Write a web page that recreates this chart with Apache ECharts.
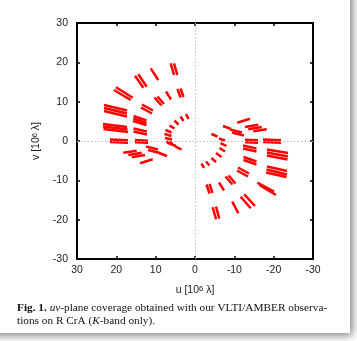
<!DOCTYPE html>
<html>
<head>
<meta charset="utf-8">
<script src="https://cdn.jsdelivr.net/npm/echarts@6/dist/echarts.min.js"></script>
<style>
html,body{margin:0;padding:0;background:#fff;}
#c{width:357px;height:341px;}
</style>
</head>
<body>
<div id="c"></div>
<script>
// uv tracks: each entry [u1, v1, u2, v2] in units of 10^6 lambda
const leftOuter = [
  [6.18,19.75,5.34,16.78],[5.34,19.75,4.50,16.78],
  [11.26,18.48,9.33,15.51],
  [15.25,16.60,13.14,13.55],[14.41,16.96,12.28,13.80],
  [20.08,13.65,15.84,11.01],[20.59,12.96,16.35,10.42],
  [23.13,9.15,17.29,7.75],[23.13,8.39,17.29,6.99],[23.13,7.63,17.29,6.23],
  [23.39,4.32,17.29,3.56],[23.39,3.69,17.16,2.92],[23.26,3.05,17.03,2.29],
  [21.61,0.38,17.03,0.18],[21.61,-0.25,17.03,-0.46],
  [18.23,-2.97,14.82,-2.47],[16.96,-3.56,13.55,-2.97],[16.09,-4.14,12.71,-3.56],
  [13.98,-5.67,10.75,-4.65]
];
const leftMiddle = [
  [4.45,13.22,3.69,11.06],[3.69,13.35,2.92,11.18],
  [7.37,12.58,6.10,10.55],
  [10.30,11.06,8.52,9.02],[9.53,11.31,7.88,9.41],
  [13.47,9.28,10.68,7.75],[13.73,8.52,10.93,6.99],
  [15.63,6.36,12.33,5.21],[15.68,5.72,12.33,4.58],[15.76,5.08,12.33,4.07],
  [15.64,3.18,12.21,2.42],[15.64,2.42,12.21,1.65],
  [15.26,0.25,11.95,0.08],[15.26,-0.33,11.95,-0.46],
  [12.46,-1.40,9.41,-2.16],[11.95,-2.29,8.90,-3.05],[9.15,-3.05,7.12,-3.81]
];
const leftInner = [
  [2.29,6.86,1.65,5.59],[3.69,6.23,2.92,5.08],[5.21,5.21,4.19,4.19],
  [6.48,3.94,5.21,3.18],[7.50,2.80,5.97,2.16],[7.75,1.78,5.97,1.27],
  [7.63,0.76,5.85,0.38],[7.25,-0.13,5.72,-0.51],
  [7.12,-0.38,4.83,-1.27],[4.96,-1.40,3.43,-2.16]
];
const rightOuter = [
  [-4.50,-16.85,-5.34,-19.90],[-5.34,-16.70,-6.18,-19.75],
  [-9.48,-15.43,-11.01,-18.38],
  [-11.62,-14.16,-14.16,-17.11],[-12.53,-13.55,-15.25,-16.52],
  [-15.84,-10.60,-20.08,-12.89],[-16.35,-11.18,-20.59,-13.73],
  [-18.30,-6.48,-23.39,-7.63],[-18.18,-7.24,-23.39,-8.52],[-18.05,-8.01,-23.26,-9.15],
  [-18.30,-2.16,-23.64,-3.05],[-18.30,-2.92,-23.64,-3.94],[-18.30,-3.69,-23.51,-4.70],
  [-17.29,0.38,-21.86,0.18],[-17.29,-0.25,-21.86,-0.46],
  [-14.82,2.47,-18.23,2.97],[-13.55,2.97,-16.96,3.56],[-12.71,3.56,-16.09,4.14],
  [-10.75,4.65,-13.98,5.67]
];
const rightMiddle = [
  [-2.92,-11.06,-3.69,-13.35],[-3.69,-10.93,-4.45,-13.22],
  [-6.10,-10.55,-7.37,-12.58],
  [-7.75,-9.02,-9.53,-11.06],[-8.52,-8.77,-10.30,-10.80],
  [-10.68,-7.50,-13.47,-9.02],[-10.93,-6.74,-13.73,-8.26],
  [-12.33,-4.07,-15.63,-5.21],[-12.33,-4.83,-15.63,-5.97],
  [-12.21,-1.14,-15.63,-1.91],[-12.21,-1.91,-15.63,-2.67],
  [-12.71,0.31,-16.01,0.20],[-12.71,-0.33,-16.01,-0.46],
  [-9.41,2.16,-12.46,1.40],[-8.90,2.92,-11.95,2.16],[-7.12,3.81,-9.15,3.05]
];
const rightInner = [
  [-4.19,1.78,-5.72,1.14],[-6.10,0.64,-7.63,0.13],[-6.48,-0.51,-8.01,-1.27],
  [-6.23,-1.78,-7.63,-2.67],[-5.34,-3.05,-6.74,-4.07],[-4.19,-4.32,-5.34,-5.34],
  [-2.80,-5.21,-3.69,-6.23],[-1.65,-5.72,-2.29,-6.86]
];

const segments = [].concat(leftOuter,leftMiddle,leftInner,rightOuter,rightMiddle,rightInner);

const chart = echarts.init(document.getElementById('c'), null, {renderer:'canvas'});
const sansFont = 'Liberation Sans';
const axisCommon = {
  min: -30, max: 30, interval: 10,
  axisLine: {show:true, onZero:false, lineStyle:{color:'#000', width:2}},
  axisTick: {show:true, inside:true, length:3, lineStyle:{color:'#000', width:1.5}},
  splitLine: {show:false}
};
chart.setOption({
  animation: false,
  backgroundColor: 'transparent',
  graphic: [
    {type:'rect', z:-100, shape:{x:-12,y:-12,width:362,height:345},
     style:{fill:'#fff', shadowBlur:9, shadowColor:'rgba(0,0,0,0.55)', shadowOffsetX:2, shadowOffsetY:2}},
    {type:'text', left:17, top:302, z:10,
     style:{
       text:'{b|Fig. 1.} {i|uv}-plane coverage obtained with our VLTI/AMBER observa-\ntions on R CrA ({i|K}-band only).',
       font:'11.3px "Liberation Serif"', fill:'#111', lineHeight:13,
       rich:{
         b:{fontWeight:'bold', fontFamily:'Liberation Serif', fontSize:11.3, fill:'#111'},
         i:{fontStyle:'italic', fontFamily:'Liberation Serif', fontSize:11.3, fill:'#111'}
       }
     }}
  ],
  grid: {left:77, top:23, width:236, height:236, containLabel:false},
  xAxis: [
    Object.assign({}, axisCommon, {
      type:'value', position:'bottom', inverse:true,
      name:'u [10{s|6} λ]', nameLocation:'middle', nameGap:26,
      nameTextStyle:{fontFamily:sansFont, fontSize:10.5, color:'#222',
        rich:{s:{fontFamily:sansFont, fontSize:7.5, color:'#222', verticalAlign:'top', padding:[0,0,3,0]}}},
      axisLabel:{fontFamily:sansFont, fontSize:10.5, color:'#222', margin:6}
    }),
    Object.assign({}, axisCommon, {
      type:'value', position:'top', inverse:true, axisLabel:{show:false}
    })
  ],
  yAxis: [
    Object.assign({}, axisCommon, {
      type:'value', position:'left',
      name:'v [10{s|6} λ]', nameLocation:'middle', nameGap:29, nameRotate:90,
      nameTextStyle:{fontFamily:sansFont, fontSize:10.5, color:'#222',
        rich:{s:{fontFamily:sansFont, fontSize:7.5, color:'#222', verticalAlign:'top', padding:[0,0,3,0]}}},
      axisLabel:{fontFamily:sansFont, fontSize:10.5, color:'#222', margin:9}
    }),
    Object.assign({}, axisCommon, {
      type:'value', position:'right', axisLabel:{show:false}
    })
  ],
  series: [
    {
      type:'line', data:[], silent:true, symbol:'none',
      markLine:{silent:true, symbol:'none', label:{show:false},
        lineStyle:{color:'#bbb', type:[1.5,2], width:1},
        data:[{xAxis:0},{yAxis:0}]}
    },
    {
      type:'custom', silent:true,
      data: segments,
      encode:{x:[0,2], y:[1,3]},
      renderItem: function(params, api){
        const p1 = api.coord([api.value(0), api.value(1)]);
        const p2 = api.coord([api.value(2), api.value(3)]);
        return {type:'line', shape:{x1:p1[0],y1:p1[1],x2:p2[0],y2:p2[1]},
          style:{stroke:'#ff0000', lineWidth:2.5, lineCap:'butt'}};
      }
    }
  ]
});
</script>
</body>
</html>
